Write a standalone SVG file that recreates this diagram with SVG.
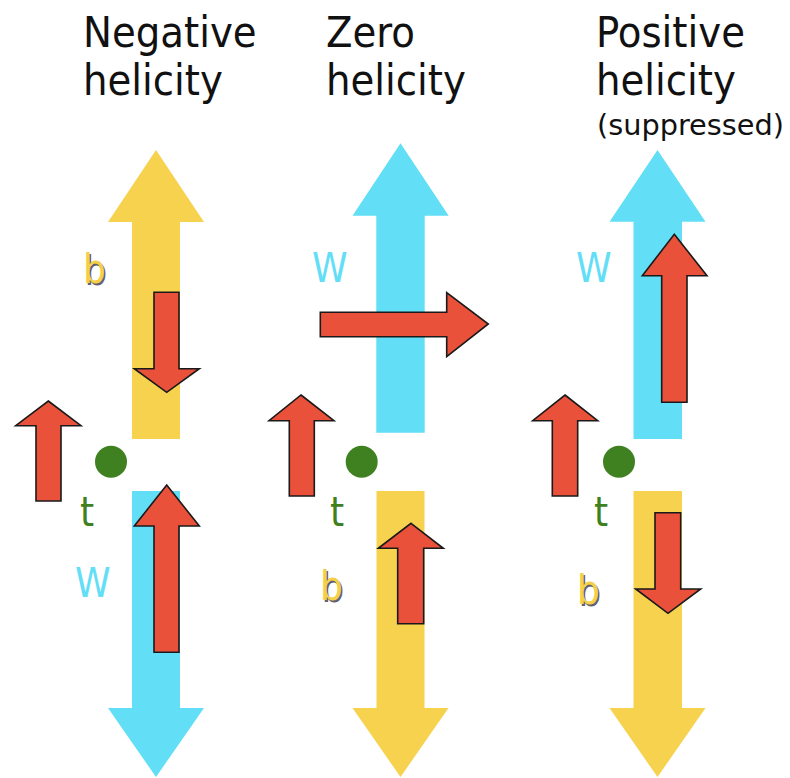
<svg xmlns="http://www.w3.org/2000/svg" width="790" height="778" viewBox="0 0 790 778">
<style>
.title{font-family:"DejaVu Sans Condensed","DejaVu Sans",sans-serif;font-stretch:condensed;font-size:43px;fill:#111}
.sub{font-family:"DejaVu Sans Condensed","DejaVu Sans",sans-serif;font-stretch:condensed;font-size:29px;fill:#111}
.lbl{font-family:"DejaVu Sans Condensed","DejaVu Sans",sans-serif;font-stretch:condensed;font-size:40px}
.yel{fill:#F6D24F}
.cya{fill:#62DEF7}
.red{fill:#E9513A;stroke:#1a1a1a;stroke-width:1.6;stroke-linejoin:miter}
.dot{fill:#3F8120}
.tl{fill:#3F8120}
.wl{fill:#62DEF7}
.bl{fill:#F4CF48}
.bs{fill:#3a3a4a;opacity:0.8}
</style>
<rect width="790" height="778" fill="#ffffff"/>

<g id="titles">
<text class="title" x="83" y="47">Negative</text>
<text class="title" x="83" y="95">helicity</text>
<text class="title" x="326" y="47">Zero</text>
<text class="title" x="326" y="95">helicity</text>
<text class="title" x="596" y="47">Positive</text>
<text class="title" x="596" y="95">helicity</text>
<text class="sub" x="597" y="135" textLength="187" lengthAdjust="spacingAndGlyphs">(suppressed)</text>
</g>

<g id="negative">
<g id="neg-b">
<polygon class="yel" points="156,150 204,222 180,222 180,439 132,439 132,222 108,222"/>
<text class="lbl bs" x="84.5" y="284.5">b</text>
<text class="lbl bl" x="83" y="283">b</text>
<polygon class="red" points="154,292.3 179,292.3 179,368.7 199.3,368.7 166.7,392.3 134.3,368.7 154,368.7"/>
</g>
<g id="neg-t">
<polygon class="red" points="48.3,401 81,425.7 61,425.7 61,501 36,501 36,425.7 15.7,425.7"/>
<circle class="dot" cx="111" cy="461.7" r="16"/>
<text class="lbl tl" x="80" y="526">t</text>
</g>
<g id="neg-w">
<polygon class="cya" points="132,491 180,491 180,708 204,708 156,777 108,708 132,708"/>
<text class="lbl wl" x="75" y="597">W</text>
<polygon class="red" points="166.7,485 199.3,526 179,526 179,652.3 154,652.3 154,526 134.3,526"/>
</g>
</g>

<g id="zero">
<g id="zero-w">
<polygon class="cya" points="400.5,143.3 448.7,215.7 424.7,215.7 424.7,432.7 376.3,432.7 376.3,215.7 352.5,215.7"/>
<text class="lbl wl" x="312" y="282">W</text>
<polygon class="red" points="320.3,312.3 446.7,312.3 446.7,292.7 488.3,324 446.7,356.7 446.7,336.7 320.3,336.7"/>
</g>
<g id="zero-t">
<polygon class="red" points="301,395 334,420.7 314.3,420.7 314.3,496 289.3,496 289.3,420.7 269,420.7"/>
<circle class="dot" cx="361.7" cy="461.7" r="16"/>
<text class="lbl tl" x="330" y="526">t</text>
</g>
<g id="zero-b">
<polygon class="yel" points="376.5,491 424.5,491 424.5,708 448.5,708 400.5,777 352.5,708 376.5,708"/>
<text class="lbl bs" x="321.5" y="601.5">b</text>
<text class="lbl bl" x="320" y="600">b</text>
<polygon class="red" points="411,523.3 443.3,548.3 423.7,548.3 423.7,623.7 397.7,623.7 397.7,548.3 378.3,548.3"/>
</g>
</g>

<g id="positive">
<g id="pos-w">
<polygon class="cya" points="657.5,150 705.5,221.7 682,221.7 682,439 633.5,439 633.5,221.7 609.5,221.7"/>
<text class="lbl wl" x="576" y="282">W</text>
<polygon class="red" points="674.3,234.3 707,275.7 687,275.7 687,402.3 661.7,402.3 661.7,275.7 642.3,275.7"/>
</g>
<g id="pos-t">
<polygon class="red" points="565,395 597.7,420.7 577.7,420.7 577.7,496 552.3,496 552.3,420.7 532.7,420.7"/>
<circle class="dot" cx="619" cy="461.7" r="16"/>
<text class="lbl tl" x="594" y="526">t</text>
</g>
<g id="pos-b">
<polygon class="yel" points="633.5,491 682,491 682,708 705.5,708 657.5,777 609.5,708 633.5,708"/>
<text class="lbl bs" x="578.5" y="605.5">b</text>
<text class="lbl bl" x="577" y="604">b</text>
<polygon class="red" points="655,512.7 680.7,512.7 680.7,589 700.7,589 668,613.3 635.7,589 655,589"/>
</g>
</g>

<g id="connectors"></g>
</svg>
